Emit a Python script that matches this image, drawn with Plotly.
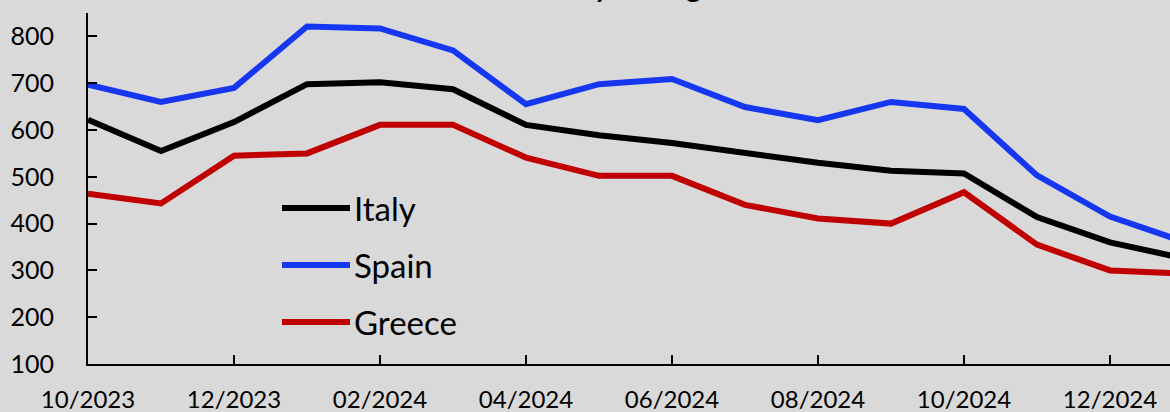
import plotly.graph_objects as go

months = ["10/2023", "11/2023", "12/2023", "01/2024", "02/2024", "03/2024", "04/2024",
          "05/2024", "06/2024", "07/2024", "08/2024", "09/2024", "10/2024", "11/2024",
          "12/2024", "01/2025"]
italy = [622, 555, 617, 698, 702, 687, 611, 589, 572, 551, 530, 513, 507, 414, 360, 326]
spain = [697, 660, 690, 821, 817, 770, 655, 698, 709, 649, 621, 660, 645, 503, 415, 362]
greece = [464, 443, 545, 550, 611, 611, 541, 502, 502, 440, 411, 400, 467, 355, 300, 293]
tick_labels = months[::2][:8]

series = [("Italy", italy, "#000000"), ("Spain", spain, "#1537F2"), ("Greece", greece, "#C00000")]

W, H = 1170, 412
L, R, T, B = 88, 0, 13, 48
pw, ph = W - L - R, H - T - B

def px2paper_x(px):
    return (px - L) / pw

def px2paper_y(py):
    return (H - B - py) / ph

fig = go.Figure()
for name, vals, col in series:
    fig.add_trace(go.Scatter(x=months, y=vals, mode="lines", name=name,
                             line=dict(color=col, width=6), showlegend=False))

FONT = "Lato"
# custom legend
leg_y = [208, 265, 322]
for (name, vals, col), yy in zip(series, leg_y):
    fig.add_shape(type="line", xref="paper", yref="paper",
                  x0=px2paper_x(282), x1=px2paper_x(350), y0=px2paper_y(yy), y1=px2paper_y(yy),
                  line=dict(color=col, width=6))
    fig.add_annotation(text=name, xref="paper", yref="paper", x=px2paper_x(352), y=px2paper_y(yy),
                       xanchor="left", yanchor="middle", showarrow=False,
                       font=dict(family=FONT, size=33, color="black"))

# title (mostly cropped above the frame)
fig.add_annotation(text="<b>Monthly average</b>", xref="paper", yref="paper",
                   x=px2paper_x(608), y=px2paper_y(-14.5), xanchor="center", yanchor="middle",
                   showarrow=False, font=dict(family=FONT, size=29, color="black"))

fig.update_layout(
    width=W, height=H,
    margin=dict(l=L, r=R, t=T, b=B, pad=0, autoexpand=False),
    paper_bgcolor="#D9D9D9", plot_bgcolor="#D9D9D9",
    font=dict(family=FONT, size=25, color="black"),
    showlegend=False,
)
fig.update_xaxes(type="category", range=[0, (W - R - L) / 73.0], automargin=False,
                 tickmode="array", tickvals=tick_labels, ticktext=tick_labels,
                 showgrid=False, zeroline=False, showline=True, linecolor="black", linewidth=2,
                 ticks="inside", ticklen=9, tickwidth=2, tickcolor="black",
                 tickfont=dict(family=FONT, size=24, color="black"), ticklabelstandoff=13)
fig.update_yaxes(range=[100, 850], tickmode="array", tickvals=[100, 200, 300, 400, 500, 600, 700, 800],
                 automargin=False,
                 showgrid=False, zeroline=False, showline=True, linecolor="black", linewidth=2,
                 ticks="inside", ticklen=9, tickwidth=2, tickcolor="black",
                 tickfont=dict(family=FONT, size=25, color="black"), ticklabelstandoff=27)

fig.write_html("out.html", config={"displayModeBar": False},
               post_script="document.body.style.margin='0';document.body.style.overflow='hidden';")
